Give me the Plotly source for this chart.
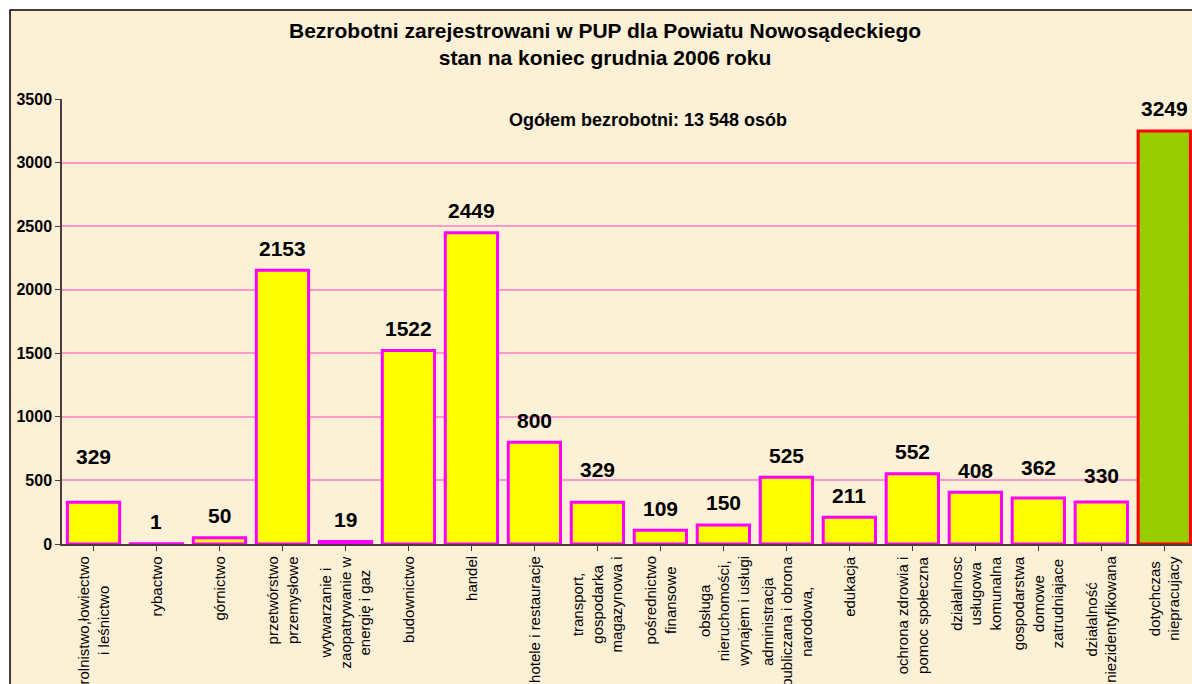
import plotly.graph_objects as go

# dane z wykresu
categories = [
    "rolnistwo,łowiectwo<br>i leśnictwo",
    "rybactwo",
    "górnictwo",
    "przetwórstwo<br>przemysłowe",
    "wytwarzanie i<br>zaopatrywanie w<br>energię i gaz",
    "budownictwo",
    "handel",
    "hotele i restauracje",
    "transport,<br>gospodarka<br>magazynowa i",
    "pośrednictwo<br>finansowe",
    "obsługa<br>nieruchomości,<br>wynajem i usługi",
    "administracja<br>publiczana i obrona<br>narodowa,",
    "edukacja",
    "ochrona zdrowia i<br>pomoc społeczna",
    "działalnosc<br>usługowa<br>komunalna",
    "gospodarstwa<br>domowe<br>zatrudniajace",
    "działalność<br>niezidentyfikowana",
    "dotychczas<br>niepracujacy",
]
values = [329, 1, 50, 2153, 19, 1522, 2449, 800, 329, 109, 150, 525, 211, 552, 408, 362, 330, 3249]
y_ticks = [0, 500, 1000, 1500, 2000, 2500, 3000, 3500]

title_text = "Bezrobotni zarejestrowani w PUP dla Powiatu Nowosądeckiego<br>stan na koniec grudnia 2006 roku"
total_text = "Ogółem bezrobotni: 13 548 osób"

# odstęp etykiet nad słupkami (px)
label_lift = [46, 22, 22, 22, 22, 22, 22, 22, 33, 22, 22, 22, 22, 22, 22, 30, 27, 22]

FONT = "Liberation Sans, Arial, sans-serif"
BG = "#FCF0D7"

n = len(categories)
xs = list(range(n))
fill = ["#FFFF00"] * (n - 1) + ["#99CC00"]
edge = ["#FF00FF"] * (n - 1) + ["#FF0000"]

fig = go.Figure(go.Bar(
    x=xs, y=values,
    marker=dict(color=fill, line=dict(color=edge, width=3)),
    hoverinfo="skip",
))

# ramka wykresu
fig.add_shape(type="rect", xref="paper", yref="paper",
              x0=-0.046, x1=1.05, y0=-0.5, y1=1.2,
              fillcolor=BG, line=dict(color="black", width=1.5), layer="below")

for i, (v, lift) in enumerate(zip(values, label_lift)):
    fig.add_annotation(x=i, y=v, yshift=lift, text=f"<b>{v}</b>", showarrow=False,
                       font=dict(family=FONT, size=21, color="black"), yanchor="middle")

for i, c in enumerate(categories):
    fig.add_annotation(x=i, y=0, yref="y", yshift=-10, text=c, showarrow=False,
                       textangle=-90, align="center", yanchor="top", xanchor="center",
                       font=dict(family=FONT, size=15, color="black"))

fig.add_annotation(xref="paper", yref="paper", x=0.4805, y=1.185, yanchor="top",
                   text=f"<b>{title_text}</b>", showarrow=False, align="center",
                   font=dict(family=FONT, size=21, color="black"))
fig.add_annotation(xref="paper", yref="paper", x=0.5186, y=0.9528, yanchor="middle",
                   text=f"<b>{total_text}</b>", showarrow=False,
                   font=dict(family=FONT, size=18, color="black"))

fig.update_layout(
    width=1192, height=684,
    margin=dict(l=62, r=0, t=99, b=140),
    paper_bgcolor="white",
    plot_bgcolor="rgba(0,0,0,0)",
    showlegend=False,
    bargap=0.17,
    xaxis=dict(range=[-0.5, 17.44], tickvals=xs, ticktext=[""] * n,
               tickson="boundaries", ticks="outside", ticklen=5, tickcolor="#4a3c3c",
               showgrid=False, showline=True, linecolor="#4a3c3c", linewidth=1.5,
               zeroline=False),
    yaxis=dict(range=[0, 3500], tickvals=y_ticks, ticks="outside", ticklen=5,
               tickcolor="#4a3c3c", showline=True, linecolor="#4a3c3c", linewidth=1.5,
               gridcolor="#FF99CC", gridwidth=2, zeroline=False,
               tickfont=dict(family=FONT, size=16, color="black", weight="bold")),
)

fig.write_html("out.html", config={"displayModeBar": False},
               post_script="document.body.style.margin='0';document.body.style.overflow='hidden';")
